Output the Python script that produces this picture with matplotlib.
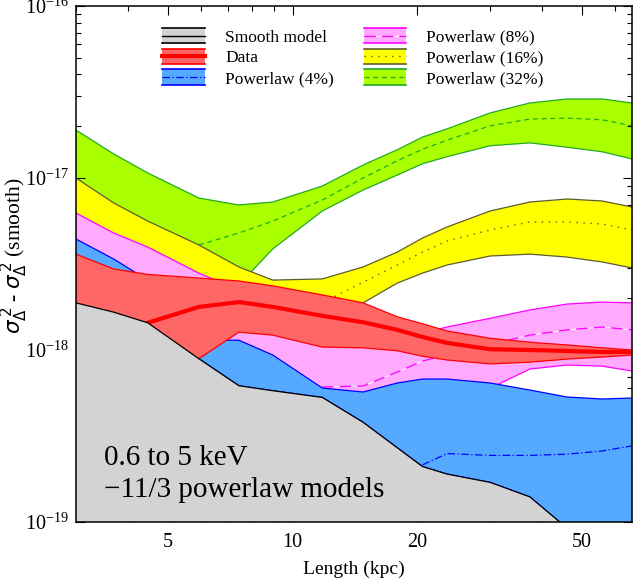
import numpy as np
import matplotlib
matplotlib.use("Agg")
import matplotlib.pyplot as plt
from matplotlib.patches import Rectangle
from matplotlib.lines import Line2D
from matplotlib.legend_handler import HandlerBase
from matplotlib.ticker import FixedLocator, NullFormatter, ScalarFormatter, LogLocator

plt.rcParams['font.family'] = ['Liberation Serif', 'DejaVu Serif']
plt.rcParams['mathtext.fontset'] = 'stix'

nan = np.nan
UNIT = 1e-18

# scale nodes (kpc)
length = [3.0, 3.7, 4.47, 5.94, 7.42, 8.96, 11.8, 14.8, 17.9, 20.6, 23.6, 30.0, 37.4, 46.0, 55.9, 66.0]

# values in units of 1e-18
smooth = [1.88, 1.66, 1.44, 0.89, 0.62, 0.58, 0.53, 0.38, 0.27, 0.21, 0.19, 0.17, 0.14, 0.092, 0.065, 0.055]

data_lo = [1.71, 1.49, 1.22, 0.89, 1.27, 1.22, 1.04, 1.03, 0.99, 0.92, 0.875, 0.83, 0.85, 0.886, 0.91, 0.935]
data_mid = [nan, nan, 1.44, 1.78, 1.90, 1.78, 1.58, 1.45, 1.31, 1.19, 1.10, 1.01, 1.00, 0.987, 0.974, 0.974]
data_hi = [3.61, 2.96, 2.75, 2.62, 2.52, 2.36, 2.09, 1.88, 1.56, 1.42, 1.29, 1.17, 1.11, 1.07, 1.03, 1.00]

pl4_lo = smooth
pl4_mid = [nan, nan, nan, nan, nan, nan, nan, nan, nan, 0.215, 0.25, 0.244, 0.244, 0.248, 0.259, 0.277]
pl4_hi = [4.42, 3.38, 2.55, 1.14, 1.14, 0.935, 0.601, 0.570, 0.643, 0.678, 0.678, 0.643, 0.585, 0.533, 0.519, 0.526]

pl8_lo = [3.81, 2.92, 1.95, 1.07, 0.875, 0.716, 0.547, 0.526, 0.585, 0.601, 0.585, 0.601, 0.775, 0.818, 0.806, 0.755]
pl8_mid = [nan, nan, nan, nan, nan, nan, 0.609, 0.618, 0.745, 0.863, 0.935, 1.08, 1.22, 1.31, 1.36, 1.31]
pl8_hi = [6.26, 4.79, 3.97, 2.80, 2.23, 1.95, 1.49, 1.22, 1.17, 1.26, 1.36, 1.53, 1.71, 1.85, 1.90, 1.88]

pl16_lo = [4.99, 3.81, 3.12, 2.23, 1.95, 1.83, 1.80, 1.88, 2.45, 2.80, 3.12, 3.52, 3.61, 3.47, 3.25, 3.00]
pl16_mid = [nan, nan, nan, nan, nan, nan, 1.88, 2.48, 3.12, 3.71, 4.30, 4.99, 5.55, 5.55, 5.40, 4.99]
pl16_hi = [10.0, 7.16, 5.62, 4.08, 3.04, 2.55, 2.59, 3.04, 3.71, 4.48, 5.19, 6.43, 7.25, 7.55, 7.35, 6.78]

pl32_lo = [8.51, 6.09, 4.66, 3.34, 2.39, 3.87, 6.43, 8.51, 10.4, 12.1, 13.3, 15.4, 16.0, 15.1, 14.2, 12.9]
pl32_mid = [nan, nan, nan, 4.08, 4.79, 5.62, 7.45, 10.0, 12.6, 14.7, 16.6, 20.1, 22.0, 22.3, 21.8, 20.1]
pl32_hi = [19.0, 13.8, 10.7, 7.65, 6.97, 7.25, 8.98, 11.9, 14.6, 17.3, 19.3, 23.9, 27.3, 28.8, 28.8, 27.3]


class Band:
    def __init__(self, face, edge, ls, lw, gap=None):
        self.face, self.edge, self.ls, self.lw, self.gap = face, edge, ls, lw, gap


class BandHandler(HandlerBase):
    def create_artists(self, legend, h, xd, yd, w, ht, fs, trans):
        x0, y0 = -xd, -yd
        rect = Rectangle((x0, y0), w, ht, facecolor=h.face, edgecolor='none', transform=trans)
        top = Line2D([x0, x0 + w], [y0 + ht] * 2, color=h.edge, lw=1.2, transform=trans)
        bot = Line2D([x0, x0 + w], [y0] * 2, color=h.edge, lw=1.2, transform=trans)
        mid = Line2D([x0, x0 + w], [y0 + ht / 2] * 2, color=h.edge, ls=h.ls, lw=h.lw,
                     gapcolor=h.gap, transform=trans)
        return [rect, top, bot, mid]


bands = [
    # lo, mid, hi, face, edge, center style, center width, gap colour, label
    (pl32_lo, pl32_mid, pl32_hi, '#aaff00', '#22aa22', (0, (4, 3)), 0.9, None, 'Powerlaw (32%)'),
    (pl16_lo, pl16_mid, pl16_hi, '#ffff00', '#5c5c2e', (0, (1, 4)), 1.0, None, 'Powerlaw (16%)'),
    (pl8_lo, pl8_mid, pl8_hi, '#ffaaff', '#ff00ff', (0, (9, 5)), 0.9, '#ffeeff', 'Powerlaw (8%)'),
    (pl4_lo, pl4_mid, pl4_hi, '#55aaff', '#0000ff', (0, (6, 2, 1, 2)), 0.9, None, 'Powerlaw (4%)'),
    (data_lo, data_mid, data_hi, '#ff6666', '#ff0000', '-', 3.0, None, 'Data'),
]

x = np.array(length)
fig = plt.figure(figsize=(6.33, 5.81), dpi=100)
ax = fig.add_axes([0.120, 0.1015, 0.8785, 0.8882])

handles = {}
for z, (lo, mid, hi, face, edge, ls, lw, gap, label) in enumerate(bands):
    lo = np.array(lo) * UNIT
    hi = np.array(hi) * UNIT
    mid = np.array(mid) * UNIT
    ax.fill_between(x, lo, hi, facecolor=face, edgecolor='none', zorder=z + 1)
    ax.plot(x, lo, color=edge, lw=0.9, zorder=z + 1)
    ax.plot(x, hi, color=edge, lw=0.9, zorder=z + 1)
    ax.plot(x, mid, color=edge, ls=ls, lw=lw, gapcolor=gap, zorder=z + 1)
    handles[label] = Band(face, edge, ls, lw, gap)

sm = np.array(smooth) * UNIT
ax.fill_between(x, 1e-21, sm, facecolor='#d3d3d3', edgecolor='none', zorder=7)
ax.plot(x, sm, color='black', lw=0.9, zorder=7)
handles['Smooth model'] = Band('#d3d3d3', 'black', '-', 1.0)

ax.set_xscale('log')
ax.set_yscale('log')
ax.set_xlim(3.0, 66.0)
ax.set_ylim(1e-19, 1e-16)

ax.xaxis.set_major_locator(FixedLocator([5, 10, 20, 50]))
ax.xaxis.set_major_formatter(ScalarFormatter())
ax.xaxis.set_minor_locator(FixedLocator([3, 4, 6, 7, 8, 9, 30, 40, 60]))
ax.xaxis.set_minor_formatter(NullFormatter())
ax.yaxis.set_major_locator(LogLocator(base=10, numticks=10))
ax.yaxis.set_minor_locator(LogLocator(base=10, subs=np.arange(2, 10), numticks=10))
ax.yaxis.set_minor_formatter(NullFormatter())

ax.tick_params(which='both', direction='in', top=True, right=True, labelsize=14.5, width=0.8)
ax.tick_params(which='major', length=6.5, pad=5)
ax.tick_params(axis='x', which='major', pad=8)
ax.tick_params(which='minor', length=3.5)
for s in ax.spines.values():
    s.set_linewidth(1.1)
    s.set_zorder(10)

ax.set_xlabel('Length (kpc)', fontsize=14, labelpad=6)
ax.set_ylabel(r'$\sigma^{\,2}_{\Delta}$ - $\sigma^{\,2}_{\Delta}$ (smooth)', fontsize=15.5,
              math_fontfamily='dejavusans')
ax.yaxis.set_label_coords(-0.083, 0.515)

ax.text(0.05, 0.1105, '0.6 to 5 keV', transform=ax.transAxes, fontsize=21, va='baseline', zorder=12)
ax.text(0.05, 0.0484, '\u221211/3 powerlaw models', transform=ax.transAxes, fontsize=21, va='baseline', zorder=12)

order = ['Smooth model', 'Data', 'Powerlaw (4%)', 'Powerlaw (8%)', 'Powerlaw (16%)', 'Powerlaw (32%)']
leg = ax.legend([handles[k] for k in order], order, handler_map={Band: BandHandler()},
                loc='upper left', bbox_to_anchor=(0.155, 0.957), ncol=2, frameon=False,
                fontsize=12.5, handlelength=2.47, handleheight=0.98, labelspacing=0.17,
                handletextpad=1.15, columnspacing=1.72, borderpad=0, borderaxespad=0)
leg.set_zorder(12)

fig.savefig('out.png', dpi=100)
